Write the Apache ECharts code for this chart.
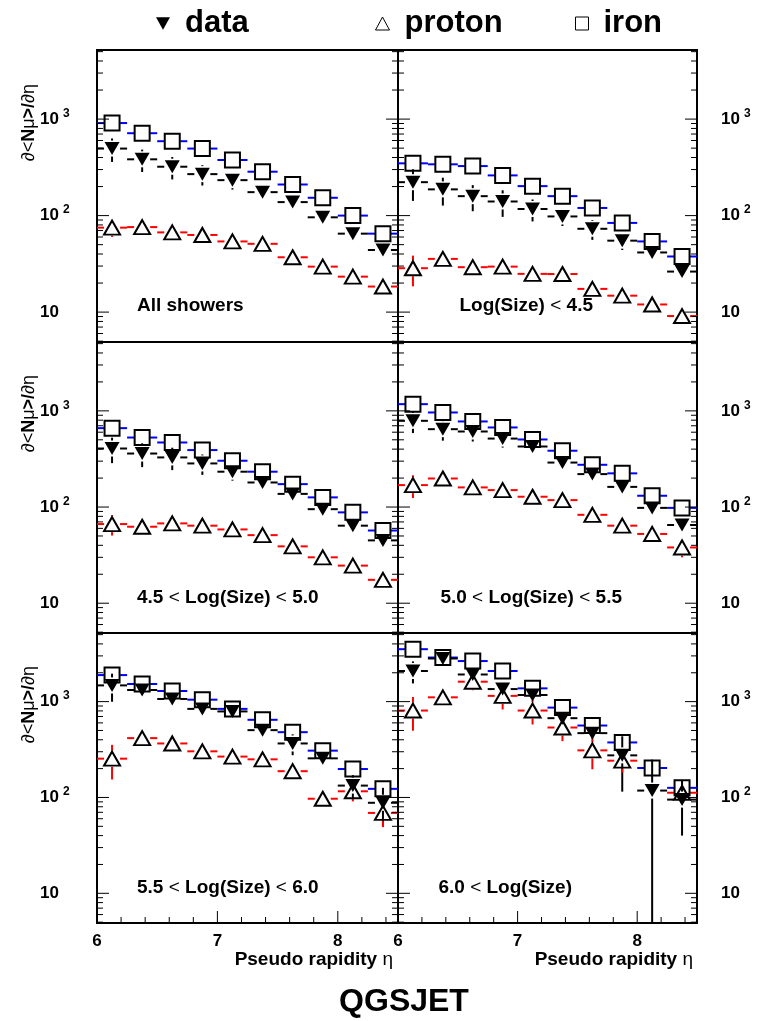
<!DOCTYPE html>
<html><head><meta charset="utf-8">
<script src="https://cdn.jsdelivr.net/npm/echarts@6/dist/echarts.min.js"></script>
<style>html,body{margin:0;padding:0;background:#fff}#c{width:761px;height:1021px}</style>
</head><body><div id="c"></div>
<script>
// ---------- data ----------
const etaBins = [6.125, 6.375, 6.625, 6.875, 7.125, 7.375, 7.625, 7.875, 8.125, 8.375];
const xTickValues = [6, 6.2, 6.4, 6.6, 6.8, 7, 7.2, 7.4, 7.6, 7.8, 8, 8.2, 8.4];
const yTickValues = [5, 6, 7, 8, 9, 10, 20, 30, 40, 50, 60, 70, 80, 90, 100, 200, 300, 400, 500, 600, 700, 800, 900, 1000, 2000, 3000, 4000, 5000];
const panelLabels = ['All showers', 'Log(Size) < 4.5', '4.5 < Log(Size) < 5.0', '5.0 < Log(Size) < 5.5', '5.5 < Log(Size) < 6.0', '6.0 < Log(Size)'];

// All showers
const allIron = [910, 714, 590, 495, 377, 285, 210, 153, 100, 65];
const allIronErr = [40, 30, 25, 20, 18, 14, 12, 10, 8, 6];
const allData = [495, 383, 321, 269, 233, 175, 138, 96, 65, 44];
const allDataErr = [135, 100, 84, 64, 47, 20, 14, 9, 6, 4];
const allProton = [75, 76, 67, 63, 54, 51, 37, 29.6, 23.3, 18.4];
const allProtonErr = [15, 6, 5, 4, 4, 3, 3, 2, 2, 2];
// Log(Size) < 4.5
const s40Iron = [348, 340, 326, 261, 202, 159, 120, 84, 54, 37.7];
const s40IronErr = [20, 16, 15, 12, 10, 8, 7, 6, 5, 4];
const s40Data = [222, 187, 159, 140, 117, 98, 73, 55, 41.5, 26.3];
const s40DataErr = [80, 60, 48, 43, 30, 20, 17, 11, 6, 4];
const s40Proton = [28.5, 35.6, 29.2, 29.6, 24.9, 24.8, 17.4, 14.8, 12, 9.1];
const s40ProtonErr = [10, 4, 3, 3, 3, 2, 2, 1.5, 1.2, 1];
// 4.5 < Log(Size) < 5.0
const s45Iron = [661, 528, 469, 391, 303, 233, 173, 126, 88, 57];
const s45IronErr = [30, 25, 22, 18, 15, 12, 10, 8, 10, 6];
const s45Data = [406, 360, 328, 284, 233, 180, 137, 95, 64, 45];
const s45DataErr = [120, 100, 86, 68, 45, 15, 10, 7, 5, 4];
const s45Proton = [66.5, 62.4, 67.6, 64, 58.5, 51, 39, 30, 24.6, 17.5];
const s45ProtonErr = [16, 5, 5, 4, 4, 3, 3, 2, 2, 2];
// 5.0 < Log(Size) < 5.5
const s50Iron = [1174, 962, 776, 672, 504, 385, 275, 224, 131, 98];
const s50IronErr = [50, 40, 35, 30, 25, 20, 18, 15, 12, 12];
const s50Data = [788, 645, 610, 515, 426, 290, 220, 162, 98, 65];
const s50DataErr = [200, 155, 130, 100, 40, 20, 15, 12, 8, 6];
const s50Proton = [169, 198, 160, 150, 128, 118, 83, 64, 52.5, 38];
const s50ProtonErr = [45, 12, 10, 9, 8, 7, 6, 5, 4, 8];
// 5.5 < Log(Size) < 6.0
const s55Iron = [1892, 1527, 1291, 1048, 840, 646, 480, 308, 198, 123];
const s55IronErr = [100, 80, 70, 60, 60, 50, 45, 30, 20, 15];
const s55Data = [1477, 1323, 1066, 840, 790, 504, 366, 256, 133, 88];
const s55DataErr = [480, 220, 100, 80, 60, 60, 90, 40, 38, 38];
const s55Proton = [254, 416, 366, 303, 267, 250, 188, 97, 116, 69];
const s55ProtonErr = [100, 30, 25, 20, 18, 18, 20, 12, 25, 20];
// 6.0 < Log(Size)
const s60Iron = [3525, 2885, 2650, 2088, 1375, 866, 563, 375, 203, 126];
const s60IronErr = [200, 180, 160, 150, 120, 70, 50, 40, 25, 15];
const s60Data = [2088, 2818, 1919, 1352, 1172, 672, 469, 275, 118, 95];
const s60DataErr = [540, 200, 300, 150, 100, 100, 80, 160, 130, 55];
const s60Proton = [807, 1109, 1614, 1148, 807, 537, 310, 242, null, 112];
const s60ProtonErr = [310, 80, 300, 320, 230, 150, 113, 60, null, 15];

// ---------- layout ----------
const F = '"Liberation Sans", Arial, Helvetica, sans-serif';
const Y_MIN = 4.9, Y_MAX = 5200;
const colLeft = [97, 398], colWidth = [301, 299];
const rowTop = [50, 342, 633], rowHeight = [292, 291, 290];
const HALF_BIN = (etaBins[1] - etaBins[0]) / 2;
const GAP = 8;
const COLORS = {iron: '#0000ff', data: '#000000', proton: '#ff0000'};

const panels = [
  [allIron, allIronErr, allData, allDataErr, allProton, allProtonErr],
  [s40Iron, s40IronErr, s40Data, s40DataErr, s40Proton, s40ProtonErr],
  [s45Iron, s45IronErr, s45Data, s45DataErr, s45Proton, s45ProtonErr],
  [s50Iron, s50IronErr, s50Data, s50DataErr, s50Proton, s50ProtonErr],
  [s55Iron, s55IronErr, s55Data, s55DataErr, s55Proton, s55ProtonErr],
  [s60Iron, s60IronErr, s60Data, s60DataErr, s60Proton, s60ProtonErr]
];

function isDecade(v) { const l = Math.log10(v); return Math.abs(l - Math.round(l)) < 1e-6; }

function errRender(color) {
  return function (params, api) {
    const x = api.value(0), y = api.value(1), e = api.value(2);
    const cs = params.coordSys;
    const p = api.coord([x, y]);
    const xl = api.coord([x - HALF_BIN, y])[0];
    const xr = api.coord([x + HALF_BIN, y])[0];
    const yt = api.coord([x, y + e])[1];
    const lo = y - e;
    const yb = lo > Y_MIN ? api.coord([x, lo])[1] : cs.y + cs.height;
    const st = {stroke: color, lineWidth: 2};
    const ch = [];
    if (p[0] - GAP > xl) ch.push({type: 'line', shape: {x1: xl, y1: p[1], x2: p[0] - GAP, y2: p[1]}, style: st});
    if (p[0] + GAP < xr) ch.push({type: 'line', shape: {x1: p[0] + GAP, y1: p[1], x2: xr, y2: p[1]}, style: st});
    if (yt < p[1] - GAP) ch.push({type: 'line', shape: {x1: p[0], y1: yt, x2: p[0], y2: p[1] - GAP}, style: st});
    if (yb > p[1] + GAP) ch.push({type: 'line', shape: {x1: p[0], y1: p[1] + GAP, x2: p[0], y2: yb}, style: st});
    return {type: 'group', children: ch};
  };
}

function yTickRender(params, api) {
  const v = api.value(1);
  const cs = params.coordSys;
  const y = api.coord([6, v])[1];
  const len = isDecade(v) ? 12 : 6;
  const st = {stroke: '#000', lineWidth: 1};
  return {type: 'group', children: [
    {type: 'line', shape: {x1: cs.x, y1: y, x2: cs.x + len, y2: y}, style: st},
    {type: 'line', shape: {x1: cs.x + cs.width - len, y1: y, x2: cs.x + cs.width, y2: y}, style: st}
  ]};
}

function xTickRender(params, api) {
  const v = api.value(0);
  const cs = params.coordSys;
  const x = api.coord([v, 100])[0];
  const len = Math.abs(v - Math.round(v)) < 1e-6 ? 12 : 6;
  const b = cs.y + cs.height;
  return {type: 'line', shape: {x1: x, y1: b, x2: x, y2: b - len}, style: {stroke: '#000', lineWidth: 1}};
}

const grids = [], xAxes = [], yAxes = [], series = [];
const richLabel = {
  b: {fontSize: 17, fontWeight: 'bold', fontFamily: F, color: '#000'},
  s: {fontSize: 12, fontWeight: 'bold', fontFamily: F, color: '#000', padding: [0, 0, 11, 4]}
};
panels.forEach((pan, i) => {
  const row = Math.floor(i / 2), col = i % 2;
  grids.push({left: colLeft[col], top: rowTop[row], width: colWidth[col], height: rowHeight[row],
    show: true, borderColor: '#000', borderWidth: 2, backgroundColor: 'transparent', containLabel: false});
  xAxes.push({gridIndex: i, type: 'value', min: 6, max: 8.5, interval: 1,
    axisLine: {show: false}, axisTick: {show: false}, splitLine: {show: false},
    axisLabel: {show: row === 2, margin: 10, fontSize: 17, fontWeight: 'bold', fontFamily: F, color: '#000',
      formatter: v => (Math.abs(v - Math.round(v)) < 1e-6 ? String(Math.round(v)) : '')}});
  yAxes.push({gridIndex: i, type: 'log', logBase: 10, min: Y_MIN, max: Y_MAX,
    position: col === 0 ? 'left' : 'right',
    axisLine: {show: false}, axisTick: {show: false}, splitLine: {show: false},
    axisLabel: {show: true, align: 'left', margin: col === 0 ? 57 : 24, verticalAlign: 'middle',
      rich: richLabel,
      formatter: v => {
        if (!isDecade(v)) return '';
        const e = Math.round(Math.log10(v));
        return e === 1 ? '{b|10}' : '{b|10}{s|' + e + '}';
      }}});
  const [iron, ironErr, data, dataErr, proton, protonErr] = pan;
  const sets = [['iron', iron, ironErr], ['data', data, dataErr], ['proton', proton, protonErr]];
  sets.forEach(([name, vals, errs]) => {
    const pts = [];
    etaBins.forEach((x, k) => { if (vals[k] != null) pts.push([x, vals[k], errs[k]]); });
    series.push({type: 'custom', name: name + ' err', xAxisIndex: i, yAxisIndex: i, silent: true, clip: true,
      renderItem: errRender(COLORS[name]), data: pts, z: 2, encode: {x: 0, y: 1}});
  });
  sets.forEach(([name, vals]) => {
    const pts = [];
    etaBins.forEach((x, k) => { if (vals[k] != null) pts.push([x, vals[k]]); });
    const s = {type: 'scatter', name: name, xAxisIndex: i, yAxisIndex: i, data: pts, silent: true, z: 3};
    if (name === 'data') {
      Object.assign(s, {symbol: 'triangle', symbolRotate: 180, symbolSize: [15, 13], itemStyle: {color: '#000', opacity: 1}});
    } else if (name === 'proton') {
      Object.assign(s, {symbol: 'triangle', symbolSize: [16, 14], itemStyle: {color: 'rgba(255,255,255,0)', borderColor: '#000', borderWidth: 2, opacity: 1}});
    } else {
      Object.assign(s, {symbol: 'rect', symbolSize: [15, 15], itemStyle: {color: 'rgba(255,255,255,0)', borderColor: '#000', borderWidth: 2, opacity: 1}});
    }
    series.push(s);
  });
  series.push({type: 'custom', xAxisIndex: i, yAxisIndex: i, silent: true, clip: false, z: 4,
    renderItem: yTickRender, data: yTickValues.map(v => [6, v]), encode: {x: 0, y: 1}});
  if (row === 2) {
    series.push({type: 'custom', xAxisIndex: i, yAxisIndex: i, silent: true, clip: false, z: 4,
      renderItem: xTickRender, data: xTickValues.map(v => [v, 100]), encode: {x: 0, y: 1}});
  }
});

const legendText = {fontSize: 31, fontWeight: 'bold', fontFamily: F, color: '#000', padding: [0, 0, 0, 10]};
const legends = [
  {left: 151, top: 3, data: [{name: 'data', icon: 'path://M0,0L20,0L10,18Z'}], symbolRotate: 0, itemWidth: 14, itemHeight: 13, itemStyle: {color: '#000', opacity: 1}},
  {left: 370, top: 3, data: [{name: 'proton', icon: 'triangle'}], itemWidth: 14, itemHeight: 13, itemStyle: {color: '#fff', borderColor: '#000', borderWidth: 1, opacity: 1}},
  {left: 570, top: 3, data: [{name: 'iron', icon: 'rect'}], itemWidth: 13, itemHeight: 13, itemStyle: {color: '#fff', borderColor: '#000', borderWidth: 1, opacity: 1}}
].map(l => Object.assign({selectedMode: false, textStyle: legendText, itemGap: 0}, l));

const labelRich = {
  b: {fontSize: 19, fontWeight: 'bold', fontFamily: F, fill: '#000'},
  n: {fontSize: 19, fontWeight: 'normal', fontFamily: F, fill: '#000'}
};
function richify(t) {
  return t.split('<').map(s => (s.length ? '{b|' + s + '}' : '')).join('{n|<}');
}
const labelPos = [
  {x: 137, y: 306, align: 'left'}, {x: 593, y: 306, align: 'right'},
  {x: 137, y: 598, align: 'left'}, {x: 622, y: 598, align: 'right'},
  {x: 137, y: 888, align: 'left'}, {x: 572, y: 888, align: 'right'}
];
const graphics = [];
panelLabels.forEach((t, i) => {
  graphics.push({type: 'text', x: labelPos[i].x, y: labelPos[i].y, silent: true,
    style: {text: richify(t), rich: labelRich, align: labelPos[i].align, verticalAlign: 'middle'}});
});
const yTitleEnd = [84, 375, 666];
yTitleEnd.forEach(y => {
  graphics.push({type: 'text', x: 29, y: y, rotation: Math.PI / 2, silent: true,
    style: {text: '{n|∂<}{b|N}{n|μ}{b|>/}{n|∂η}', rich: {
      b: {fontSize: 18, fontWeight: 'bold', fontFamily: F, fill: '#000'},
      n: {fontSize: 18, fontWeight: 'normal', fontFamily: F, fill: '#000'}}, align: 'right', verticalAlign: 'middle'}});
});
[393, 693].forEach(x => {
  graphics.push({type: 'text', x: x, y: 960, silent: true,
    style: {text: '{b|Pseudo rapidity }{n|η}', rich: labelRich, align: 'right', verticalAlign: 'middle'}});
});

const option = {
  animation: false,
  backgroundColor: '#fff',
  title: {text: 'QGSJET', left: 399, top: 981, textAlign: 'center',
    textStyle: {fontSize: 32, fontWeight: 'bold', fontFamily: F, color: '#000'}},
  legend: legends,
  grid: grids, xAxis: xAxes, yAxis: yAxes, series: series,
  graphic: graphics
};
const chart = echarts.init(document.getElementById('c'));
chart.setOption(option);
</script></body></html>
